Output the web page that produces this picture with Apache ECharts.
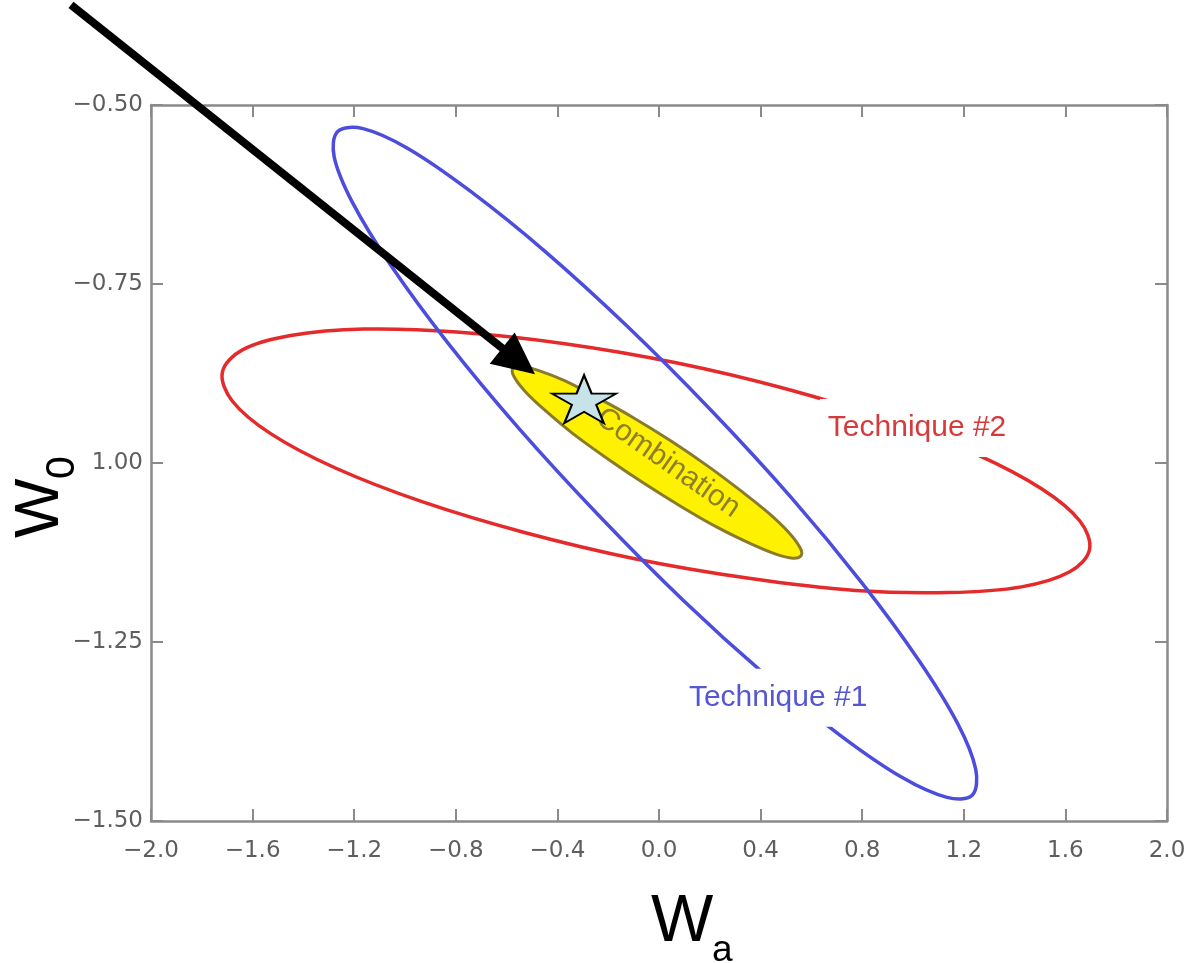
<!DOCTYPE html>
<html><head><meta charset="utf-8">
<script src="https://cdn.jsdelivr.net/npm/echarts@6/dist/echarts.min.js"></script>
<style>html,body{margin:0;padding:0;background:#fff}#c{width:1194px;height:963px}</style>
</head><body><div id="c"></div>
<script>
// ---- data (axis units) ----
const xTickLabels = ['−2.0','−1.6','−1.2','−0.8','−0.4','0.0','0.4','0.8','1.2','1.6','2.0'];
const yTickLabels = ['−1.50','−1.25','1.00','−0.75','−0.50'];

// Technique #1 (blue) contour
const technique1 = [
  [1.233,-1.464],[1.134,-1.467],[0.956,-1.439],[0.712,-1.380],[0.419,-1.296],[0.096,-1.192],
  [-0.235,-1.074],[-0.551,-0.952],[-0.830,-0.833],[-1.054,-0.725],[-1.207,-0.636],[-1.279,-0.572],
  [-1.265,-0.537],[-1.165,-0.533],[-0.987,-0.561],[-0.744,-0.620],[-0.450,-0.704],[-0.128,-0.808],
  [0.204,-0.926],[0.520,-1.048],[0.798,-1.167],[1.022,-1.275],[1.176,-1.364],[1.247,-1.428]
];
// Technique #2 (red) contour
const technique2 = [
  [1.695,-1.121],[1.617,-1.152],[1.427,-1.173],[1.139,-1.181],[0.774,-1.178],[0.354,-1.161],
  [-0.091,-1.134],[-0.530,-1.097],[-0.933,-1.054],[-1.274,-1.007],[-1.529,-0.959],[-1.681,-0.913],
  [-1.719,-0.873],[-1.640,-0.842],[-1.450,-0.822],[-1.163,-0.813],[-0.797,-0.817],[-0.378,-0.833],
  [0.067,-0.860],[0.506,-0.897],[0.910,-0.941],[1.250,-0.988],[1.506,-1.036],[1.657,-1.081]
];
// Combination (yellow) contour
const combination = [
  [0.560,-1.129],[0.527,-1.133],[0.457,-1.127],[0.356,-1.112],[0.230,-1.090],[0.088,-1.061],
  [-0.061,-1.028],[-0.207,-0.993],[-0.339,-0.959],[-0.447,-0.927],[-0.527,-0.900],[-0.570,-0.880],
  [-0.576,-0.868],[-0.543,-0.865],[-0.473,-0.871],[-0.372,-0.885],[-0.246,-0.908],[-0.104,-0.936],
  [0.046,-0.969],[0.191,-1.004],[0.323,-1.039],[0.432,-1.070],[0.511,-1.097],[0.555,-1.118]
];
const starPoint = [[-0.295,-0.911]];
const arrowLine = [[-2.315,-0.360],[-0.488,-0.876]];
const labels = [
  {text:'Technique #1', pos:[0.469,-1.328], color:'#5656d2'},
  {text:'Technique #2', pos:[1.016,-0.951], color:'#d63a3a'}
];
const combinationLabel = {text:'Combination', pos:[0.035,-1.000]};

// ---- chart ----
const chart = echarts.init(document.getElementById('c'), null, {renderer:'canvas'});
const frameColor = '#8a8a8a';
const labelFont = 'DejaVu Sans';
function xAxisCfg(pos, showLabel){
  return {type:'value', min:-2, max:2, interval:0.4, position:pos,
    axisLine:{show:true, onZero:false, lineStyle:{color:frameColor, width:2.5}},
    axisTick:{show:true, inside:true, length:12, lineStyle:{color:frameColor, width:2}},
    axisLabel:{show:showLabel, color:'#5e5e5e', fontFamily:labelFont, fontSize:23, margin:19,
      formatter:(v,i)=>xTickLabels[i]},
    splitLine:{show:false}};
}
function yAxisCfg(pos, showLabel){
  return {type:'value', min:-1.5, max:-0.5, interval:0.25, position:pos,
    axisLine:{show:true, onZero:false, lineStyle:{color:frameColor, width:2.5}},
    axisTick:{show:true, inside:true, length:12, lineStyle:{color:frameColor, width:2}},
    axisLabel:{show:showLabel, color:'#5e5e5e', fontFamily:labelFont, fontSize:23, margin:8,
      formatter:(v,i)=>yTickLabels[i]},
    splitLine:{show:false}};
}
function contour(name, pts, style, z){
  return {type:'custom', name, coordinateSystem:'cartesian2d', data:pts, z, silent:true,
    renderItem:(params, api)=>{
      if (params.dataIndex !== 0) return null;
      const points = pts.map(p=>api.coord(p));
      return {type:'polygon', shape:{points, smooth:0.35}, style};
    }};
}
const option = {
  backgroundColor:'#fff',
  animation:false,
  grid:{left:151, top:105, width:1016, height:716, containLabel:false},
  xAxis:[xAxisCfg('bottom', true), xAxisCfg('top', false)],
  yAxis:[yAxisCfg('left', true), yAxisCfg('right', false)],
  series:[
    contour('Technique #2', technique2, {fill:'none', stroke:'#e42a2a', lineWidth:3.5}, 2),
    contour('Technique #1', technique1, {fill:'none', stroke:'#4d4ddd', lineWidth:3.5}, 3),
    {type:'custom', name:'Combination', coordinateSystem:'cartesian2d', data:combination, z:4, silent:true,
      renderItem:(params, api)=>{
        if (params.dataIndex !== 0) return null;
        const points = combination.map(p=>api.coord(p));
        const c = api.coord(combinationLabel.pos);
        return {type:'group', children:[
          {type:'polygon', shape:{points, smooth:0.35}, style:{fill:'#fff200', stroke:'#8a7b2c', lineWidth:3}},
          {type:'text', x:c[0], y:c[1], rotation:-35*Math.PI/180,
            style:{text:combinationLabel.text, fill:'#8f7f2a', font:'30px "Liberation Sans", Arial, sans-serif',
              align:'center', verticalAlign:'middle'}}
        ]};
      }},
    {type:'custom', name:'labels', coordinateSystem:'cartesian2d', data:labels.map(l=>l.pos), z:6, silent:true,
      renderItem:(params, api)=>{
        const l = labels[params.dataIndex];
        const c = api.coord(l.pos);
        return {type:'text', x:c[0], y:c[1],
          style:{text:l.text, fill:l.color, font:'30px "Liberation Sans", Arial, sans-serif',
            align:'center', verticalAlign:'middle', backgroundColor:'#fff', padding:[14,8]}};
      }},
    {type:'custom', name:'arrow', coordinateSystem:'cartesian2d', data:arrowLine, z:7, silent:true,
      renderItem:(params, api)=>{
        if (params.dataIndex !== 0) return null;
        const a = api.coord(arrowLine[0]), b = api.coord(arrowLine[1]);
        const dx=b[0]-a[0], dy=b[1]-a[1], L=Math.hypot(dx,dy), ux=dx/L, uy=dy/L;
        const hl=42, hw=20;
        const bx=b[0]-ux*hl, by=b[1]-uy*hl;
        return {type:'group', children:[
          {type:'line', shape:{x1:a[0], y1:a[1], x2:bx+ux*4, y2:by+uy*4}, style:{stroke:'#000', lineWidth:8, lineCap:'butt'}},
          {type:'polygon', shape:{points:[[b[0],b[1]],[bx-uy*hw, by+ux*hw],[bx+uy*hw, by-ux*hw]]}, style:{fill:'#000'}}
        ]};
      }},
    {type:'scatter', name:'star', data:starPoint, z:8, silent:true,
      symbol:'path://M50,0 L61.2,34.5 L97.6,34.5 L68.2,55.9 L79.4,90.5 L50,69.1 L20.6,90.5 L31.8,55.9 L2.4,34.5 L38.8,34.5 Z',
      symbolSize:[64,48], itemStyle:{color:'#c6e3ea', borderColor:'#000', borderWidth:2, opacity:1}}
  ],
  graphic:[
    {type:'text', x:651, y:923, style:{text:'W', font:'66px "Liberation Sans", Arial, sans-serif', fill:'#000', align:'left', verticalAlign:'middle'}},
    {type:'text', x:712, y:951, style:{text:'a', font:'37px "Liberation Sans", Arial, sans-serif', fill:'#000', align:'left', verticalAlign:'middle'}},
    {type:'text', x:41, y:538, rotation:Math.PI/2, style:{text:'W', font:'63px "Liberation Sans", Arial, sans-serif', fill:'#000', align:'left', verticalAlign:'middle'}},
    {type:'text', x:63, y:479, rotation:Math.PI/2, style:{text:'0', font:'41px "Liberation Sans", Arial, sans-serif', fill:'#000', align:'left', verticalAlign:'middle'}}
  ]
};
chart.setOption(option);
</script>
</body></html>
